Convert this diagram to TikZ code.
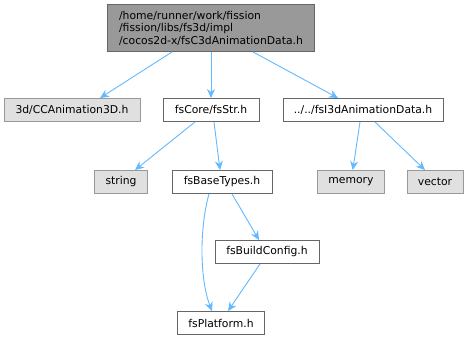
\documentclass[tikz,border=0pt]{standalone}
\usepackage{fontspec}
\setmainfont{DejaVu Sans}
\usetikzlibrary{arrows.meta,positioning}
\definecolor{edgeblue}{HTML}{63B8FF}
\definecolor{topgray}{HTML}{999999}
\definecolor{darkgray}{HTML}{666666}
\definecolor{extgray}{HTML}{E0E0E0}
\begin{document}
\begin{tikzpicture}[x=1pt,y=-1pt,
  hfile/.style={rectangle,draw=darkgray,fill=white,line width=0.9pt,
                font=\fontsize{10.8}{12.6}\selectfont,inner sep=0pt,
                minimum height=23pt},
  sysfile/.style={hfile,draw=topgray,fill=extgray},
  inc/.style={draw=edgeblue,line width=0.9pt,-{Stealth[length=9pt,width=8pt]}}]
\useasboundingbox (0,0) rectangle (470,340);
\node[hfile,fill=topgray,minimum width=207pt,minimum height=47pt,align=left] (top) at (211,28) {%
  /home/runner/work/fission\\/fission/libs/fs3d/impl\\/cocos2d-x/fsC3dAnimationData.h};

\node[sysfile,minimum width=136pt] (cca) at (72,110) {3d/CCAnimation3D.h};
\node[hfile,minimum width=96pt]    (str) at (211,110) {fsCore/fsStr.h};
\node[hfile,minimum width=160pt]   (ani) at (363,110) {../../fsI3dAnimationData.h};

\node[sysfile,minimum width=53pt]  (string) at (121,182) {string};
\node[hfile,minimum width=100pt]   (base)   at (222,182) {fsBaseTypes.h};
\node[sysfile,minimum width=67pt]  (memory) at (351,182) {memory};
\node[sysfile,minimum width=56pt]  (vector) at (435,182) {vector};

\node[hfile,minimum width=104pt] (build) at (267,252) {fsBuildConfig.h};
\node[hfile,minimum width=87pt]  (plat)  at (221,323) {fsPlatform.h};

% include edges
\draw[inc] (top.south -| 172,0) -- (cca.north -| 100,0);
\draw[inc] (top) -- (str);
\draw[inc] (top.south -| 253,0) -- (ani.north -| 338,0);
\draw[inc] (str.south -| 195,0) -- (string.north -| 135,0);
\draw[inc] (str.south -| 214,0) -- (base.north -| 220,0);
\draw[inc] (ani.south -| 360,0) -- (memory);
\draw[inc] (ani.south -| 375,0) -- (vector.north -| 425,0);
\draw[inc] (base.south -| 209,0) .. controls (199,230) and (200,280) .. (plat.north -| 212,0);
\draw[inc] (base.south -| 232,0) -- (build.north -| 259,0);
\draw[inc] (build.south -| 260,0) -- (plat.north -| 228,0);
\end{tikzpicture}
\end{document}
